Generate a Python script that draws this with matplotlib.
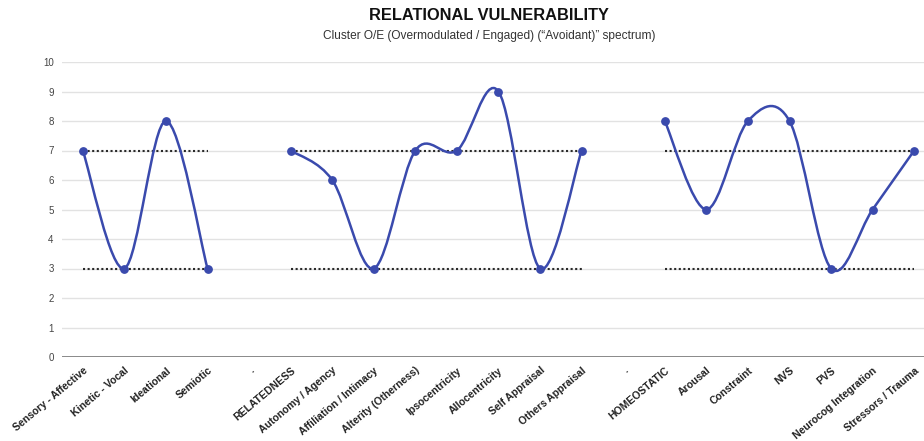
import numpy as np
import matplotlib
matplotlib.use("Agg")
import matplotlib.pyplot as plt
from matplotlib.path import Path
from matplotlib.patches import PathPatch

plt.rcParams['font.family'] = ['Liberation Sans', 'DejaVu Sans']

# categories (blank "." slots separate the three groups)
labels = ["Sensory - Affective", "Kinetic - Vocal", "Ideational", "Semiotic", ".",
          "RELATEDNESS", "Autonomy / Agency", "Affiliation / Intimacy", "Alterity (Otherness)",
          "Ipsocentricity", "Allocentricity", "Self Appraisal", "Others Appraisal", ".",
          "HOMEOSTATIC", "Arousal", "Constraint", "NVS", "PVS", "Neurocog Integration",
          "Stressors / Trauma"]
scores = [7, 3, 8, 3, None,
          7, 6, 3, 7, 7, 9, 3, 7, None,
          8, 5, 8, 8, 3, 5, 7]
upper = [7, 7, 7, 7, None, 7, 7, 7, 7, 7, 7, 7, 7, None, 7, 7, 7, 7, 7, 7, 7]
lower = [3, 3, 3, 3, None, 3, 3, 3, 3, 3, 3, 3, 3, None, 3, 3, 3, 3, 3, 3, 3]

blue = "#3a4aad"

fig = plt.figure(figsize=(9.24, 4.41), dpi=100)
ax = fig.add_axes([62 / 924, 84 / 441, 873 / 924, 295 / 441])

x = np.arange(len(labels))


def nan_list(vals):
    return np.array([np.nan if v is None else v for v in vals], dtype=float)


# smooth curve (catmull-rom as bezier) for each run of points
def runs(vals):
    out, cur = [], []
    for i, v in enumerate(vals):
        if v is None:
            if cur:
                out.append(cur)
            cur = []
        else:
            cur.append((i, v))
    if cur:
        out.append(cur)
    return out


for run in runs(scores):
    p = np.array(run, dtype=float)
    ext = np.vstack([p[0], p, p[-1]])
    verts = [tuple(p[0])]
    codes = [Path.MOVETO]
    for i in range(1, len(ext) - 2):
        p0, p1, p2, p3 = ext[i - 1], ext[i], ext[i + 1], ext[i + 2]
        c1 = p1 + (p2 - p0) / 6
        c2 = p2 - (p3 - p1) / 6
        verts += [tuple(c1), tuple(c2), tuple(p2)]
        codes += [Path.CURVE4] * 3
    ax.add_patch(PathPatch(Path(verts, codes), fill=False, edgecolor=blue, lw=1.8, zorder=4))

ax.plot(x, nan_list(upper), linestyle=(0, (1, 1.2)), color="#2a2a2a", lw=1.5, zorder=3)
ax.plot(x, nan_list(lower), linestyle=(0, (1, 1.2)), color="#2a2a2a", lw=1.5, zorder=3)
ax.plot(x, nan_list(scores), linestyle="none", marker="o", ms=5.3, color=blue, zorder=5)

ax.set_xlim(-0.5, len(labels) - 0.5)
ax.set_ylim(0, 10)
ax.set_yticks(range(0, 11))
ax.yaxis.grid(True, color="#e2e2e2", lw=1)
ax.axhline(0, color="#777777", lw=1.2, zorder=2)
ax.set_axisbelow(True)
for s in ax.spines.values():
    s.set_visible(False)
ax.tick_params(axis="both", length=0)
ax.tick_params(axis="y", labelsize=7, labelcolor="#444444", pad=6)
ax.set_xticks(x)
ax.set_xticklabels(labels, rotation=40, ha="right", va="top", rotation_mode="anchor",
                   fontsize=7.5, fontweight="bold", color="#222222")
ax.tick_params(axis="x", pad=6)

fig.text(489 / 924, 1 - 16 / 441, "RELATIONAL VULNERABILITY", ha="center", va="center",
         fontsize=11.8, fontweight="bold", color="#111111")
fig.text(489 / 924, 1 - 36 / 441, "Cluster O/E (Overmodulated / Engaged) (\u201cAvoidant)\u201d spectrum)",
         ha="center", va="center", fontsize=8.6, color="#333333")

fig.savefig("out.png", dpi=100)
